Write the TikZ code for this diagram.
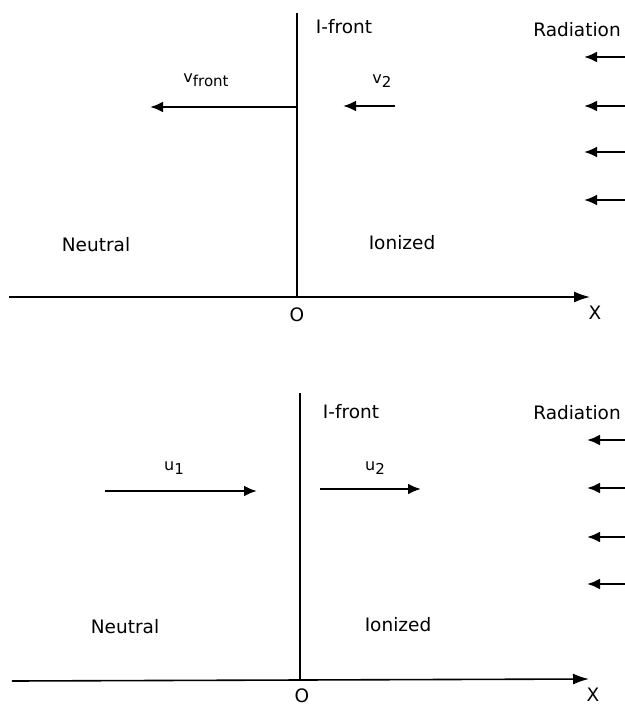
\documentclass[tikz,border=0pt]{standalone}
\usepackage{fontspec}
\setmainfont{DejaVu Sans}
\usetikzlibrary{arrows.meta}
\newcommand\vsub[2]{#1\raisebox{-0.5ex}{\fontsize{15}{15}\selectfont #2}}
\begin{document}
\begin{tikzpicture}[x=1pt,y=-1pt,
  lbl/.style={font=\fontsize{18.5}{20}\selectfont, inner sep=0pt},
  vlbl/.style={font=\fontsize{16}{18}\selectfont, inner sep=0pt},
  vel/.style={line width=2.4pt, -{Latex[length=13pt,width=11pt]}},
  axisline/.style={line width=1.6pt, -{Latex[length=16pt,width=11pt]}},
  frontline/.style={line width=1.2pt}]
\useasboundingbox (0,0) rectangle (624,706);
% ---------- top panel ----------
\coordinate (tfT) at (297,13);
\coordinate (tfB) at (297,297);
\coordinate (taxL) at (9,297);
\coordinate (taxR) at (590,297);
\draw[frontline] (tfT) -- (tfB);
\draw[axisline] (taxL) -- (taxR);
\node[lbl] (tO) at (297,315) {O};
\node[lbl] (tX) at (595,313) {X};
\node[lbl] (tIf) at (344,27) {I-front};
\node[lbl] (tRad) at (577,30) {Radiation};
\foreach \i/\yy in {1/57,2/106,3/152,4/200}{
  \coordinate (trs\i) at (627,\yy);
  \coordinate (tre\i) at (584,\yy);
  \draw[vel] (trs\i) -- (tre\i);
}
\coordinate (tvfs) at (297,107);
\coordinate (tvfe) at (150,107);
\draw[vel] (tvfs) -- (tvfe);
\node[vlbl] (tvfl) at (206,80) {\vsub{v}{front}};
\coordinate (tv2s) at (395,106);
\coordinate (tv2e) at (343,106);
\draw[vel] (tv2s) -- (tv2e);
\node[vlbl] (tv2l) at (382,81) {\vsub{v}{2}};
\node[lbl] (tNeu) at (96,245) {Neutral};
\node[lbl] (tIon) at (402,243) {Ionized};
% ---------- bottom panel ----------
\coordinate (bfT) at (300,393);
\coordinate (bfB) at (300,680);
\coordinate (baxL) at (12,681);
\coordinate (baxR) at (589,679);
\draw[frontline] (bfT) -- (bfB);
\draw[axisline] (baxL) -- (baxR);
\node[lbl] (bO) at (302,696) {O};
\node[lbl] (bX) at (593,695) {X};
\node[lbl] (bIf) at (351,412) {I-front};
\node[lbl] (bRad) at (577,413) {Radiation};
\foreach \i/\yy in {1/440,2/488,3/537,4/584}{
  \coordinate (brs\i) at (627,\yy);
  \coordinate (bre\i) at (587,\yy);
  \draw[vel] (brs\i) -- (bre\i);
}
\coordinate (bu1s) at (105,491);
\coordinate (bu1e) at (257,491);
\draw[vel] (bu1s) -- (bu1e);
\node[vlbl] (bu1l) at (174,468) {\vsub{u}{1}};
\coordinate (bu2s) at (320,489);
\coordinate (bu2e) at (421,489);
\draw[vel] (bu2s) -- (bu2e);
\node[vlbl] (bu2l) at (375,468) {\vsub{u}{2}};
\node[lbl] (bNeu) at (125,627) {Neutral};
\node[lbl] (bIon) at (398,625) {Ionized};
\end{tikzpicture}
\end{document}
